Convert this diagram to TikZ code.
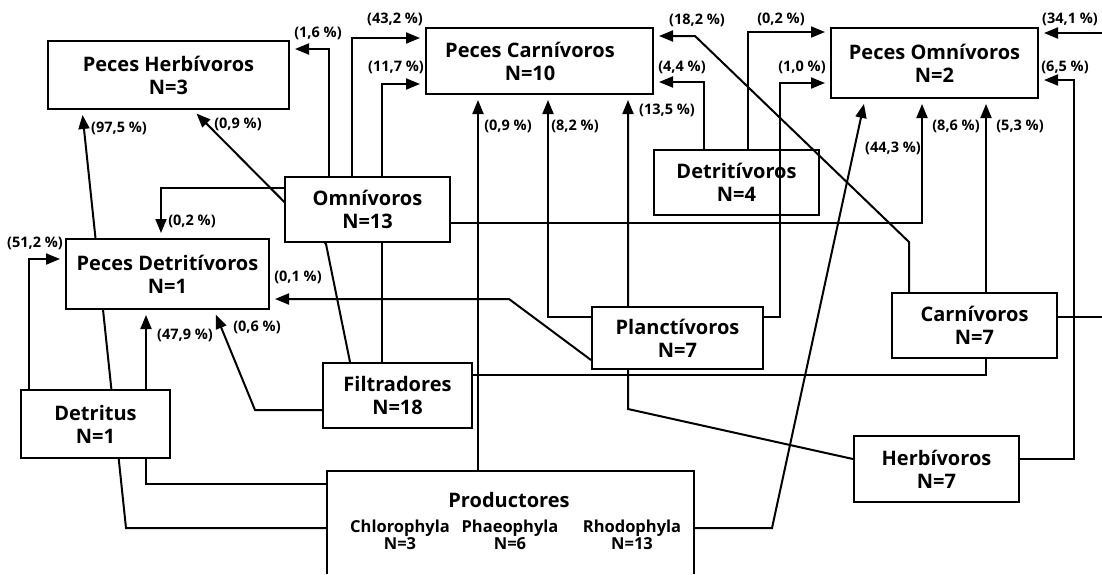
\documentclass[tikz,border=0pt]{standalone}
\usepackage{fontspec}
\setmainfont{Open Sans}
\usetikzlibrary{arrows.meta}
\pgfdeclarelayer{bg}
\pgfsetlayers{bg,main}

\tikzset{
  box/.style={draw, line width=2pt, fill=white, inner sep=0pt, align=center,
              font=\fontsize{20}{23}\selectfont\bfseries},
  openbox/.style={box, fill=none},
  link/.style={line width=2pt},
  flow/.style={link, -{Triangle[length=14pt,width=11pt]}, shorten >=5pt},
  pct/.style={font=\fontsize{14.5}{16}\selectfont\bfseries, inner sep=0pt},
  taxon/.style={font=\fontsize{16.5}{17}\selectfont\bfseries, align=center, inner sep=0pt},
}

\begin{document}
\begin{tikzpicture}[x=1pt,y=-1pt]
\useasboundingbox (0,0) rectangle (1102,574);

% ---- trophic groups ----
\node[box, minimum width=241pt, minimum height=68pt] (ph) at (168.5,75) {Peces Herbívoros\\N=3};
\node[box, minimum width=227pt, minimum height=66pt] (pc) at (539.5,61) {Peces Carnívoros\hspace*{19pt}\\N=10\hspace*{19pt}};
\node[box, minimum width=207pt, minimum height=70pt] (po) at (934.5,63) {Peces Omnívoros\\N=2};
\node[box, minimum width=165pt, minimum height=65pt] (omn) at (367.5,209.5) {Omnívoros\\N=13};
\node[box, minimum width=203pt, minimum height=70pt] (pd) at (167.5,274) {Peces Detritívoros\\N=1};
\node[openbox, minimum width=165pt, minimum height=65pt] (det4) at (736.5,182.5) {Detritívoros\\N=4};
\node[box, minimum width=171pt, minimum height=62pt] (pla) at (677.5,338) {Planctívoros\\N=7};
\node[box, minimum width=165pt, minimum height=65pt] (car) at (974.5,325.5) {Carnívoros\\N=7};
\node[box, minimum width=165pt, minimum height=66pt] (herb) at (936.5,469) {Herbívoros\\N=7};
\node[box, minimum width=149pt, minimum height=65pt] (fil) at (397.5,395.5) {Filtradores\\N=18};
\node[box, minimum width=149pt, minimum height=68pt] (detr) at (95.5,424) {Detritus\\N=1};

% producers: box runs past the lower edge, so it is left open there
\node[draw=none, fill=white, minimum width=367pt, minimum height=103pt, inner sep=0pt] (prod) at (510.5,522.5) {};
\draw[link] (prod.south west) -- (prod.north west) -- (prod.north east) -- (prod.south east);
\node[box, draw=none, fill=none] (prodt) at (509,500) {Productores};
\node[taxon] (chl) at (400,534.5) {Chlorophyla\\N=3};
\node[taxon] (pha) at (510,534.5) {Phaeophyla\\N=6};
\node[taxon] (rho) at (632,534.5) {Rhodophyla\\N=13};

% ---- flows (drawn beneath the boxes) ----
\begin{pgfonlayer}{bg}
\coordinate (k1) at (329,49);
\draw[flow] (omn.north -| k1) -- (k1) -- (ph.east |- k1);
\coordinate (k2) at (352,38);
\draw[flow] (omn.north -| k2) -- (k2) -- (pc.west |- k2);
\coordinate (k3) at (382,84);
\draw[flow] (fil.north -| k3) -- (k3) -- (pc.west |- k3);
\coordinate (k4a) at (350,363);
\coordinate (k4b) at (326,244);
\coordinate (k4c) at (193,109);
\draw[flow] (fil.north -| k4a) -- (k4b) -- (ph.south -| k4c);
\coordinate (k5) at (161,188);
\draw[flow] (omn.west |- k5) -- (k5) -- (pd.north -| k5);
\coordinate (k6) at (922,223);
\draw[flow] (omn.east |- k6) -- (k6) -- (po.south -| k6);
\coordinate (k7) at (478,0);
\draw[flow] (prod.north -| k7) -- (pc.south -| k7);
\coordinate (k8) at (548,317);
\draw[flow] (pla.west |- k8) -- (k8) -- (pc.south -| k8);
\coordinate (k9a) at (854,459);
\coordinate (k9b) at (628,409);
\draw[flow] (herb.west |- k9a) -- (k9b) -- (pc.south -| k9b);
\coordinate (k10) at (704,82);
\draw[flow] (det4.north -| k10) -- (k10) -- (pc.east |- k10);
\coordinate (k11) at (748,32);
\draw[flow] (det4.north -| k11) -- (k11) -- (po.west |- k11);
\coordinate (k12a) at (780,317);
\coordinate (k12b) at (780,83);
\draw[flow] (pla.east |- k12a) -- (k12a) -- (k12b) -- (po.west |- k12b);
\coordinate (k13a) at (909,242);
\coordinate (k13b) at (695,36);
\draw[flow] (car.north -| k13a) -- (k13a) -- (k13b) -- (pc.east |- k13b);
\coordinate (k14) at (986,375);
\draw[flow] (fil.east |- k14) -- (k14) -- (po.south -| k14);
\coordinate (k15a) at (772,528);
\coordinate (k15b) at (865,98);
\draw[flow] (prod.east |- k15a) -- (k15a) -- (po.south -| k15b);
\coordinate (k16a) at (1074,459);
\coordinate (k16b) at (1074,80);
\draw[flow] (herb.east |- k16a) -- (k16a) -- (k16b) -- (po.east |- k16b);
\coordinate (e1) at (1102,33);
\draw[flow] (e1) -- (po.east |- e1);
\coordinate (e2) at (1102,317);
\draw[link] (car.east |- e2) -- (e2);
\coordinate (k19a) at (592,360);
\coordinate (k19b) at (509,299);
\draw[flow] (pla.west |- k19a) -- (k19b) -- (pd.east |- k19b);
\coordinate (k20a) at (255,410);
\coordinate (k20b) at (214,309);
\draw[flow] (fil.west |- k20a) -- (k20a) -- (pd.south -| k20b);
\coordinate (k21) at (29,259);
\draw[flow] (detr.north -| k21) -- (k21) -- (pd.west |- k21);
\coordinate (k22) at (146,484);
\draw[flow] (prod.west |- k22) -- (k22) -- (pd.south -| k22);
\coordinate (k23a) at (126,528);
\coordinate (k23b) at (82,109);
\draw[flow] (prod.west |- k23a) -- (k23a) -- (ph.south -| k23b);
\end{pgfonlayer}

% ---- flow percentages ----
\node[pct] (t1) at (318,33) {(1,6 \%)};
\node[pct] (t2) at (395,19) {(43,2 \%)};
\node[pct] (t3) at (396,67) {(11,7 \%)};
\node[pct] (t4) at (238,124) {(0,9 \%)};
\node[pct] (t5) at (119,128) {(97,5 \%)};
\node[pct] (t6) at (697,20) {(18,2 \%)};
\node[pct] (t7) at (781,19) {(0,2 \%)};
\node[pct] (t8) at (682,67) {(4,4 \%)};
\node[pct] (t9) at (802,67) {(1,0 \%)};
\node[pct] (t10) at (667,110) {(13,5 \%)};
\node[pct] (t11) at (508,126) {(0,9 \%)};
\node[pct] (t12) at (575,126) {(8,2 \%)};
\node[pct] (t13) at (1070,19) {(34,1 \%)};
\node[pct] (t14) at (1065,67) {(6,5 \%)};
\node[pct] (t15) at (956,126) {(8,6 \%)};
\node[pct] (t16) at (1020,126) {(5,3 \%)};
\node[pct] (t17) at (893,148) {(44,3 \%)};
\node[pct] (t18) at (192,221) {(0,2 \%)};
\node[pct] (t19) at (35,243) {(51,2 \%)};
\node[pct] (t20) at (298,277) {(0,1 \%)};
\node[pct] (t21) at (185,335) {(47,9 \%)};
\node[pct] (t22) at (257,327) {(0,6 \%)};
\end{tikzpicture}
\end{document}
